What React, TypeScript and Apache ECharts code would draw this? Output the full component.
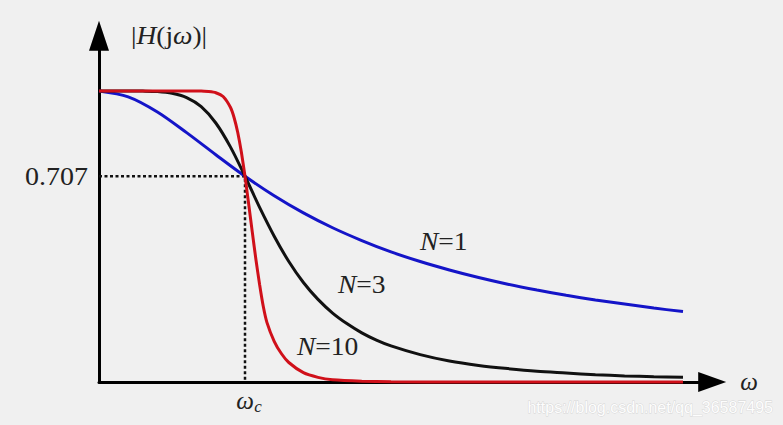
import React, { useEffect, useRef } from "react";
import * as echarts from "echarts";

// Butterworth magnitude responses
const omegaN1 = [0, 0.2, 0.4, 0.6, 0.8, 1.0, 1.2, 1.4, 1.6, 1.8, 2.0, 2.2, 2.4, 2.6, 2.8, 3.0, 3.2, 3.4, 3.6, 3.8, 4.0];
const magN1 = [1, 0.98, 0.928, 0.857, 0.781, 0.707, 0.64, 0.581, 0.53, 0.486, 0.447, 0.414, 0.385, 0.359, 0.336, 0.316, 0.298, 0.282, 0.268, 0.254, 0.242];

const omegaN3 = [0, 0.2, 0.3, 0.4, 0.5, 0.6, 0.7, 0.8, 0.9, 1.0, 1.1, 1.2, 1.3, 1.4, 1.5, 1.6, 1.7, 1.8, 1.9, 2.0, 2.2, 2.4, 2.6, 2.8, 3.0, 3.2, 3.4, 3.6, 3.8, 4.0];
const magN3 = [1, 1, 0.9996, 0.998, 0.992, 0.977, 0.946, 0.89, 0.808, 0.707, 0.6, 0.501, 0.414, 0.342, 0.284, 0.237, 0.2, 0.169, 0.144, 0.124, 0.094, 0.072, 0.057, 0.046, 0.037, 0.031, 0.025, 0.021, 0.018, 0.016];

const omegaN10 = [0, 0.5, 0.7, 0.75, 0.8, 0.85, 0.9, 0.925, 0.95, 0.975, 1.0, 1.025, 1.05, 1.075, 1.1, 1.125, 1.15, 1.2, 1.25, 1.3, 1.4, 1.5, 1.6, 1.8, 2.0, 2.5, 3.0, 4.0];
const magN10 = [1, 1, 1, 0.998, 0.994, 0.981, 0.944, 0.909, 0.858, 0.79, 0.707, 0.612, 0.515, 0.42, 0.335, 0.26, 0.205, 0.14, 0.097, 0.067, 0.032, 0.016, 0.008, 0.003, 0.001, 0, 0, 0];

// cutoff guide (dotted lines)
const guideOmega = [0, 1, 1];
const guideMag = [0.707, 0.707, 0];

const seriesLabels = ["N=1", "N=3", "N=10"];
const yTickLabel = "0.707";
const watermark = "https://blog.csdn.net/qq_36587495";

const pairs = (xs: number[], ys: number[]) => xs.map((x, i) => [x, ys[i]]);

const SERIF = "Liberation Serif";
const INK = "#222222";

export default function App() {
  const ref = useRef<HTMLDivElement>(null);

  useEffect(() => {
    if (!ref.current) return;
    const chart = echarts.init(ref.current, undefined, { renderer: "svg" });

    const nText = (label: string, x: number, y: number) => {
      const [n, rest] = [label.slice(0, 1), label.slice(1)];
      return {
        type: "text",
        x,
        y,
        scaleX: 1.1,
        style: {
          text: `{i|${n}}{r|${rest}}`,
          rich: {
            i: { fontFamily: SERIF, fontSize: 25, fontStyle: "italic", fill: INK },
            r: { fontFamily: SERIF, fontSize: 25, fill: INK },
          },
          fontFamily: SERIF,
          fontSize: 25,
          textVerticalAlign: "middle",
          verticalAlign: "middle",
          textAlign: "left",
          align: "left",
        },
      };
    };

    chart.setOption({
      animation: false,
      backgroundColor: "#f0f0f0",
      grid: { left: 99, right: 70.8, top: 35.7, bottom: 43, containLabel: false },
      xAxis: {
        type: "value",
        min: 0,
        max: 4.2,
        axisLine: {
          show: true,
          symbol: ["none", "triangle"],
          symbolSize: [20, 28],
          lineStyle: { color: "#000", width: 3 },
        },
        axisTick: { show: false },
        axisLabel: { show: false },
        splitLine: { show: false },
      },
      yAxis: {
        type: "value",
        min: 0,
        max: 1.19,
        axisLine: {
          show: true,
          symbol: ["none", "triangle"],
          symbolSize: [20, 30],
          lineStyle: { color: "#000", width: 3 },
        },
        axisTick: { show: false },
        axisLabel: { show: false },
        splitLine: { show: false },
      },
      series: [
        {
          type: "line",
          data: pairs(guideOmega, guideMag),
          symbol: "none",
          clip: false,
          z: 1,
          lineStyle: { color: "#111", width: 2.5, type: [3, 2.5] },
        },
        {
          name: seriesLabels[0],
          type: "line",
          data: pairs(omegaN1, magN1),
          symbol: "none",
          smooth: 0.3,
          clip: false,
          z: 3,
          lineStyle: { color: "#1414c8", width: 3 },
        },
        {
          name: seriesLabels[1],
          type: "line",
          data: pairs(omegaN3, magN3),
          symbol: "none",
          smooth: 0.3,
          clip: false,
          z: 3,
          lineStyle: { color: "#111111", width: 3 },
        },
        {
          name: seriesLabels[2],
          type: "line",
          data: pairs(omegaN10, magN10),
          symbol: "none",
          smooth: 0.2,
          clip: false,
          z: 4,
          lineStyle: { color: "#d0101a", width: 3 },
        },
      ],
      graphic: [
        {
          type: "text",
          x: 169,
          y: 36,
          scaleX: 1.1,
          style: {
            text: "{r||}{i|H}{r|(j}{i|ω}{r|)|}",
            rich: {
              i: { fontFamily: SERIF, fontSize: 25, fontStyle: "italic", fill: INK },
              r: { fontFamily: SERIF, fontSize: 25, fill: INK },
            },
            fontFamily: SERIF,
            fontSize: 25,
            textAlign: "center",
            align: "center",
            textVerticalAlign: "middle",
            verticalAlign: "middle",
          },
        },
        {
          type: "text",
          x: 88,
          y: 177,
          scaleX: 1.12,
          style: {
            text: yTickLabel,
            fontFamily: SERIF,
            fontSize: 25,
            fill: INK,
            textAlign: "right",
            align: "right",
            textVerticalAlign: "middle",
            verticalAlign: "middle",
          },
        },
        {
          type: "text",
          x: 245,
          y: 400,
          style: {
            text: "ω",
            fontFamily: SERIF,
            fontSize: 25,
            fontStyle: "italic",
            fill: INK,
            textAlign: "center",
            align: "center",
            textVerticalAlign: "middle",
            verticalAlign: "middle",
          },
        },
        {
          type: "text",
          x: 258,
          y: 406,
          style: {
            text: "c",
            fontFamily: SERIF,
            fontSize: 17,
            fontStyle: "italic",
            fill: INK,
            textAlign: "center",
            align: "center",
            textVerticalAlign: "middle",
            verticalAlign: "middle",
          },
        },
        {
          type: "text",
          x: 749,
          y: 381,
          style: {
            text: "ω",
            fontFamily: SERIF,
            fontSize: 25,
            fontStyle: "italic",
            fill: INK,
            textAlign: "center",
            align: "center",
            textVerticalAlign: "middle",
            verticalAlign: "middle",
          },
        },
        nText(seriesLabels[0], 420, 242),
        nText(seriesLabels[1], 338, 285),
        nText(seriesLabels[2], 297, 347),
        {
          type: "text",
          x: 773,
          y: 407,
          style: {
            text: watermark,
            fontFamily: "Liberation Sans",
            fontSize: 16,
            fill: "#fdfdfd",
            stroke: "#d4d4d4",
            lineWidth: 0.8,
            textAlign: "right",
            align: "right",
            textVerticalAlign: "middle",
            verticalAlign: "middle",
          },
        },
      ],
    });

    return () => {
      chart.dispose();
    };
  }, []);

  return (
    <div
      ref={ref}
      style={{ position: "fixed", left: 0, top: 0, width: 783, height: 425 }}
    />
  );
}
